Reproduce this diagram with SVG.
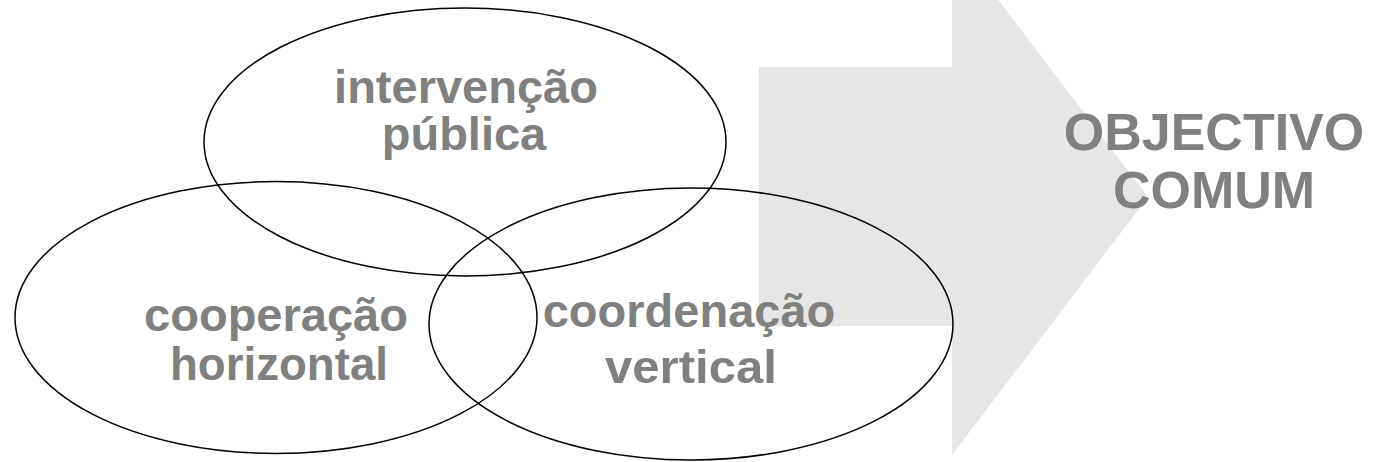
<svg xmlns="http://www.w3.org/2000/svg" width="1382" height="462" viewBox="0 0 1382 462">
  <style>
    .lbl { font-family: "Liberation Sans", Arial, sans-serif; font-weight: bold; fill: #808080; text-anchor: middle; }
    .ell { fill: none; stroke: #000000; stroke-width: 1.5; }
  </style>
  <rect width="1382" height="462" fill="#ffffff"/>
  <g id="arrow">
    <path d="M759 67 H952 V-61 L1148 197 L952 455 V326 H759 Z" fill="#e6e6e6"/>
  </g>
  <g id="goal">
    <text class="lbl" x="1214" y="150" font-size="52">OBJECTIVO</text>
    <text class="lbl" x="1214" y="208" font-size="52">COMUM</text>
  </g>
  <g id="intervencao">
    <ellipse class="ell" cx="465" cy="142" rx="261" ry="134"/>
    <text class="lbl" x="466" y="103" font-size="47">intervenção</text>
    <text class="lbl" x="464" y="150" font-size="47">pública</text>
  </g>
  <g id="cooperacao">
    <ellipse class="ell" cx="276" cy="317.5" rx="261" ry="136"/>
    <text class="lbl" x="276" y="331" font-size="47">cooperação</text>
    <text class="lbl" x="279" y="380" font-size="47" textLength="218" lengthAdjust="spacingAndGlyphs">horizontal</text>
  </g>
  <g id="coordenacao">
    <ellipse class="ell" cx="691" cy="324" rx="262" ry="136" stroke-width="2"/>
    <text class="lbl" x="689" y="327" font-size="47">coordenação</text>
    <text class="lbl" x="691" y="383" font-size="47" textLength="172" lengthAdjust="spacingAndGlyphs">vertical</text>
  </g>
  <g id="connectors"></g>
</svg>
